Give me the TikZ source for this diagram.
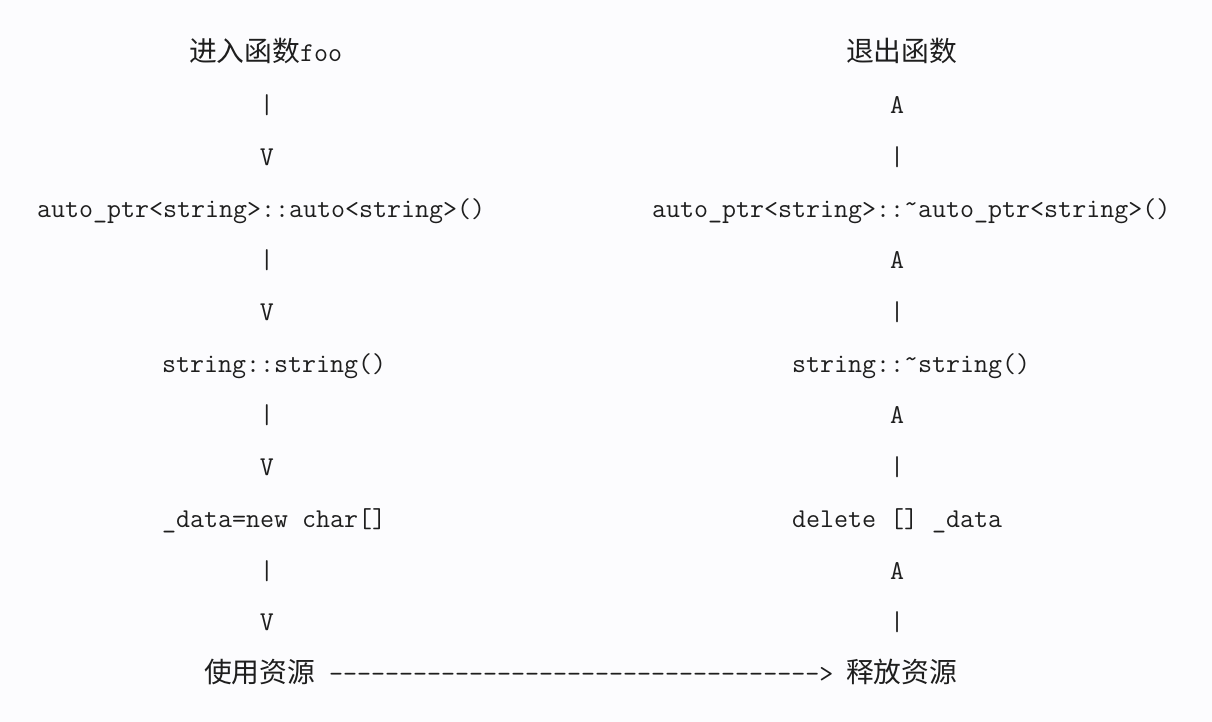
\documentclass[tikz,border=0pt]{standalone}
\usepackage{fontspec}
\newfontfamily\cjk[Scale=1.022]{Noto Sans CJK SC}
\definecolor{ink}{RGB}{30,30,30}
\definecolor{paper}{RGB}{252,252,254}
\newcommand\tld{\raisebox{5pt}{\textasciitilde}}
\newcommand\dashrun{\foreach \i in {1,...,35}{-}}
\tikzset{
  txt/.style={anchor=base west, inner sep=0pt, outer sep=0pt,
    font=\fontsize{27.2}{30}\selectfont\ttfamily, text=ink},
  arr/.style={txt, anchor=base},
}
\begin{document}
\begin{tikzpicture}[x=1pt,y=-1pt]
\fill[paper] (0,0) rectangle (1212,722);
\useasboundingbox (0,0) rectangle (1212,722);
% left column
\node[txt] (enter) at (189,62) {{\cjk 进入函数}foo};
\node[arr] (l1) at (267,113.7) {|};
\node[arr] (l2) at (267,165.4) {V};
\node[txt] (ctor) at (37,217.1) {auto\_ptr<string>::auto<string>()};
\node[arr] (l3) at (267,268.8) {|};
\node[arr] (l4) at (267,320.5) {V};
\node[txt] (sctor) at (162,372.2) {string::string()};
\node[arr] (l5) at (267,423.9) {|};
\node[arr] (l6) at (267,475.6) {V};
\node[txt] (alloc) at (162,527.3) {\_data=new char[]};
\node[arr] (l7) at (267,579) {|};
\node[arr] (l8) at (267,630.7) {V};
\node[txt] (use) at (204,682.4) {\cjk 使用资源};
\node[txt] (dash) at (329,682.4) {\dashrun>};
\node[txt] (release) at (846,682.4) {\cjk 释放资源};
% right column
\node[txt] (exit) at (846,62) {\cjk 退出函数};
\node[arr] (r1) at (897,113.7) {A};
\node[arr] (r2) at (897,165.4) {|};
\node[txt] (dtor) at (652,217.1) {auto\_ptr<string>::\tld auto\_ptr<string>()};
\node[arr] (r3) at (897,268.8) {A};
\node[arr] (r4) at (897,320.5) {|};
\node[txt] (sdtor) at (792,372.2) {string::\tld string()};
\node[arr] (r5) at (897,423.9) {A};
\node[arr] (r6) at (897,475.6) {|};
\node[txt] (free) at (792,527.3) {delete [] \_data};
\node[arr] (r7) at (897,579) {A};
\node[arr] (r8) at (897,630.7) {|};
\end{tikzpicture}
\end{document}
